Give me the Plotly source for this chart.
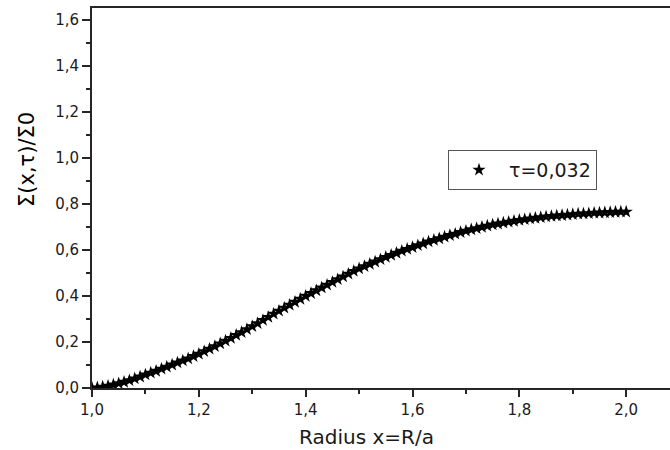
import plotly.graph_objects as go

radius = [1.00, 1.01, 1.02, 1.03, 1.04, 1.05, 1.06, 1.07, 1.08, 1.09,
          1.10, 1.11, 1.12, 1.13, 1.14, 1.15, 1.16, 1.17, 1.18, 1.19,
          1.20, 1.21, 1.22, 1.23, 1.24, 1.25, 1.26, 1.27, 1.28, 1.29,
          1.30, 1.31, 1.32, 1.33, 1.34, 1.35, 1.36, 1.37, 1.38, 1.39,
          1.40, 1.41, 1.42, 1.43, 1.44, 1.45, 1.46, 1.47, 1.48, 1.49,
          1.50, 1.51, 1.52, 1.53, 1.54, 1.55, 1.56, 1.57, 1.58, 1.59,
          1.60, 1.61, 1.62, 1.63, 1.64, 1.65, 1.66, 1.67, 1.68, 1.69,
          1.70, 1.71, 1.72, 1.73, 1.74, 1.75, 1.76, 1.77, 1.78, 1.79,
          1.80, 1.81, 1.82, 1.83, 1.84, 1.85, 1.86, 1.87, 1.88, 1.89,
          1.90, 1.91, 1.92, 1.93, 1.94, 1.95, 1.96, 1.97, 1.98, 1.99,
          2.00]

sigma_ratio = [0.000, 0.002, 0.005, 0.009, 0.014, 0.020, 0.026, 0.033, 0.041, 0.049,
               0.058, 0.066, 0.074, 0.083, 0.092, 0.101, 0.110, 0.119, 0.128, 0.138,
               0.148, 0.159, 0.170, 0.181, 0.193, 0.205, 0.217, 0.230, 0.242, 0.255,
               0.268, 0.281, 0.295, 0.308, 0.322, 0.335, 0.348, 0.361, 0.374, 0.387,
               0.400, 0.412, 0.424, 0.436, 0.448, 0.460, 0.472, 0.484, 0.496, 0.508,
               0.519, 0.529, 0.539, 0.549, 0.559, 0.569, 0.578, 0.587, 0.596, 0.604,
               0.612, 0.620, 0.628, 0.636, 0.643, 0.650, 0.657, 0.664, 0.670, 0.677,
               0.683, 0.689, 0.694, 0.700, 0.705, 0.710, 0.714, 0.718, 0.722, 0.726,
               0.730, 0.733, 0.736, 0.739, 0.742, 0.745, 0.747, 0.749, 0.751, 0.753,
               0.755, 0.757, 0.758, 0.759, 0.761, 0.762, 0.763, 0.764, 0.765, 0.766,
               0.766]

series_name = "τ=0,032"
x_title = "Radius x=R/a"
y_title = "Σ(x,τ)/Σ0"

FONT = "DejaVu Sans, Verdana, sans-serif"
TXT = "#1a1a1a"
AX = "#262626"

fig = go.Figure()
fig.add_trace(go.Scatter(
    x=radius, y=sigma_ratio, mode="markers", name=series_name,
    marker=dict(symbol="star", size=10, color="black", line=dict(width=0)),
))

fig.update_layout(
    width=670, height=450,
    margin=dict(l=92, r=0, t=8, b=62),
    paper_bgcolor="white", plot_bgcolor="white",
    separators=",.",
    font=dict(family=FONT, color=TXT, size=15),
    showlegend=True,
    legend=dict(
        x=(448 - 92) / 578, y=(388 - 150) / 380, xanchor="left", yanchor="top",
        bordercolor="#555555", borderwidth=1, bgcolor="white",
        font=dict(size=19, family=FONT, color=TXT),
        itemwidth=50,
    ),
    xaxis=dict(
        range=[1.0, 2.082], showgrid=False, zeroline=False,
        showline=True, linecolor=AX, linewidth=2, mirror=True,
        ticks="outside", ticklen=7, tickwidth=2, tickcolor=AX,
        tick0=1.0, dtick=0.2, tickformat=".1f",
        tickfont=dict(size=15, family=FONT, color=TXT),
        minor=dict(ticks="outside", ticklen=4, tickwidth=2, dtick=0.1, tickcolor=AX),
    ),
    yaxis=dict(
        range=[0, 1.652], showgrid=False, zeroline=False,
        showline=True, linecolor=AX, linewidth=2, mirror=False,
        ticks="outside", ticklen=8, tickwidth=2, tickcolor=AX,
        tick0=0, dtick=0.2, tickformat=".1f",
        tickfont=dict(size=15, family=FONT, color=TXT),
        minor=dict(ticks="outside", ticklen=4, tickwidth=2, dtick=0.1, tickcolor=AX),
    ),
    annotations=[
        dict(text=x_title, xref="paper", yref="paper",
             x=(366 - 92) / 578, y=-49 / 380, xanchor="center", yanchor="middle",
             showarrow=False, font=dict(size=20, family=FONT, color=TXT)),
        dict(text=y_title, xref="paper", yref="paper",
             x=-65 / 578, y=(388 - 160) / 380, xanchor="center", yanchor="middle",
             textangle=-90, showarrow=False, font=dict(size=21, family=FONT, color="black")),
    ],
)

fig.write_html("out.html")
